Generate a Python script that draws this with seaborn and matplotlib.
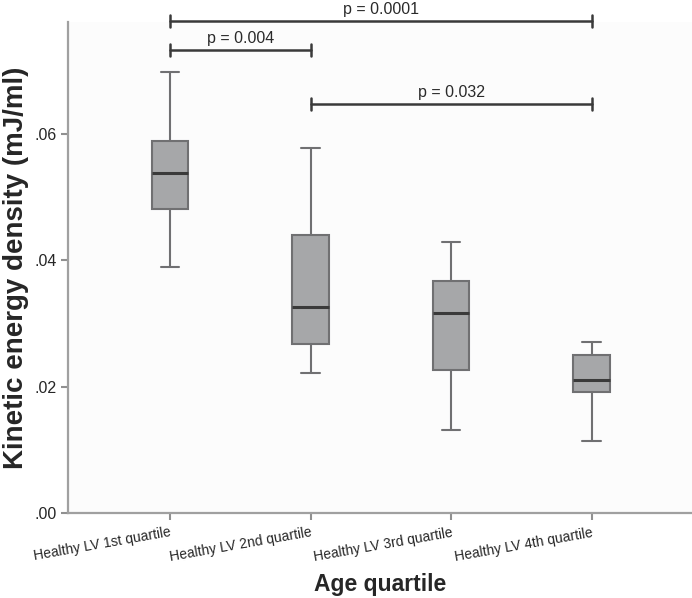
import numpy as np
import pandas as pd
import matplotlib
matplotlib.use("Agg")
import matplotlib.pyplot as plt
import seaborn as sns

# groups on the x axis
groups = ["Healthy LV 1st quartile", "Healthy LV 2nd quartile",
          "Healthy LV 3rd quartile", "Healthy LV 4th quartile"]

# five-number summaries: min, q1, median, q3, max
q1_vals = [0.0389, 0.0481, 0.0538, 0.0589, 0.0698]
q2_vals = [0.0221, 0.0268, 0.0327, 0.0441, 0.0578]
q3_vals = [0.0132, 0.0227, 0.0316, 0.0368, 0.0430]
q4_vals = [0.0114, 0.0192, 0.0211, 0.0251, 0.0271]

# significance brackets: (left group, right group, label, height)
sig_pairs = [(0, 3, "p = 0.0001", 0.0779),
             (0, 1, "p = 0.004", 0.0733),
             (1, 3, "p = 0.032", 0.0648)]

df = pd.DataFrame({
    "group": np.repeat(groups, 5),
    "ked": q1_vals + q2_vals + q3_vals + q4_vals,
})

sns.set_style("white")
plt.rcParams["font.family"] = ["Liberation Sans", "DejaVu Sans"]

fig = plt.figure(figsize=(6.92, 5.98), dpi=100)
ax = fig.add_axes([0.0983, 0.1421, 0.9017, 0.8215])
ax.set_facecolor("#fcfcfc")

sns.boxplot(data=df, x="group", y="ked", order=groups, ax=ax,
            whis=(0, 100), width=0.26, color="#a6a7a9", saturation=1,
            linecolor="#707072", linewidth=1.5,
            medianprops=dict(color="#3a3a3a", linewidth=2.2))

ax.set_ylim(0, 0.0778)
ax.set_xlim(-0.726, 3.715)
ax.set_yticks([0, 0.02, 0.04, 0.06])
ax.set_yticklabels([".00", ".02", ".04", ".06"])

ax.tick_params(axis="y", labelsize=11.5, length=5, width=1.5,
               color="#909090", left=True, pad=3)
ax.tick_params(axis="x", labelsize=10, length=5, width=1.5,
               color="#909090", bottom=True, pad=4)
for lab in ax.get_xticklabels():
    lab.set_rotation(10)
    lab.set_ha("right")
    lab.set_rotation_mode("anchor")

for s in ["top", "right"]:
    ax.spines[s].set_visible(False)
for s in ["left", "bottom"]:
    ax.spines[s].set_color("#a0a0a0")
    ax.spines[s].set_linewidth(1.6)

ax.set_xlabel("Age quartile", fontsize=16.5, fontweight="bold", labelpad=6)
ax.set_ylabel("Kinetic energy density (mJ/ml)", fontsize=20,
              fontweight="bold", labelpad=4)

# significance brackets
tick_h = 0.001
for a, b, txt, yv in sig_pairs:
    ax.plot([a, b], [yv, yv], color="#3a3a3a", lw=1.8, clip_on=False)
    ax.plot([a, a], [yv - tick_h, yv + tick_h], color="#3a3a3a", lw=1.8,
            clip_on=False)
    ax.plot([b, b], [yv - tick_h, yv + tick_h], color="#3a3a3a", lw=1.8,
            clip_on=False)
    ax.annotate(txt, xy=((a + b) / 2, yv), xytext=(0, 3),
                textcoords="offset points", ha="center", va="bottom",
                fontsize=11.5, color="#2a2a2a", annotation_clip=False)

fig.savefig("out.png", dpi=100)
